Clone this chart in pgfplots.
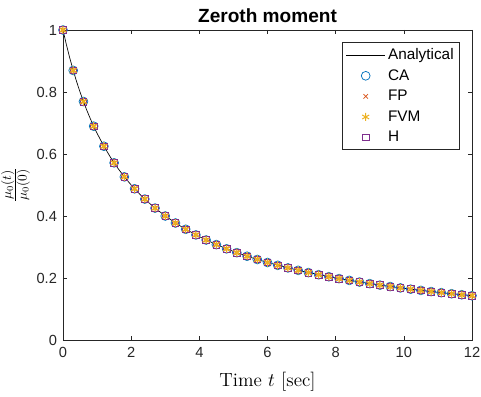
\documentclass[border=0pt]{standalone}
\usepackage{pgfplots}
\usepackage{pgfplotstable}
\pgfplotsset{compat=1.18}
\usepackage{fontspec}
\newfontfamily\helv{Liberation Sans}
\definecolor{cA}{rgb}{0,0.447,0.741}
\definecolor{cB}{rgb}{0.85,0.325,0.098}
\definecolor{cC}{rgb}{0.929,0.694,0.125}
\definecolor{cD}{rgb}{0.494,0.184,0.556}
\definecolor{axc}{rgb}{0.15,0.15,0.15}
\pgfplotstableread{
t v
0 1
0.3 0.869565
0.6 0.769231
0.9 0.689655
1.2 0.625
1.5 0.571429
1.8 0.526316
2.1 0.487805
2.4 0.454545
2.7 0.425532
3.0 0.4
3.3 0.377358
3.6 0.357143
3.9 0.338983
4.2 0.322581
4.5 0.307692
4.8 0.294118
5.1 0.281690
5.4 0.270270
5.7 0.259740
6.0 0.25
6.3 0.240964
6.6 0.232558
6.9 0.224719
7.2 0.217391
7.5 0.210526
7.8 0.204082
8.1 0.198020
8.4 0.192308
8.7 0.186916
9.0 0.181818
9.3 0.176991
9.6 0.172414
9.9 0.168067
10.2 0.163934
10.5 0.16
10.8 0.15625
11.1 0.152672
11.4 0.149254
11.7 0.145985
12.0 0.142857
}\data
\pgfplotstableread{
t v
0 1
0.1 0.952381
0.2 0.909091
0.3 0.869565
0.4 0.833333
0.5 0.8
0.6 0.769231
0.7 0.740741
0.8 0.714286
0.9 0.689655
1.0 0.666667
1.2 0.625
1.4 0.588235
1.6 0.555556
1.8 0.526316
2.0 0.5
2.3 0.465116
2.6 0.434783
3.0 0.4
3.5 0.363636
4.0 0.333333
4.5 0.307692
5.0 0.285714
5.5 0.266667
6.0 0.25
7.0 0.222222
8.0 0.2
9.0 0.181818
10.0 0.166667
11.0 0.153846
12.0 0.142857
}\exact
\begin{document}
\begin{tikzpicture}
\begin{axis}[
  scale only axis,
  width=306.75pt, height=232.5pt,
  xmin=0, xmax=12, ymin=0, ymax=1,
  xtick={0,2,...,12}, ytick={0,0.2,...,1},
  xtick pos=both, ytick pos=both,
  yticklabel style={/pgf/number format/fixed, xshift=-1pt},
  xticklabel style={yshift=-2pt},
  /pgf/number format/assume math mode=true,
  ticklabel style={font=\helv\fontsize{11}{13}\selectfont, text=axc},
  tick align=inside,
  major tick length=3pt,
  tick style={axc, line width=0.5pt},
  axis line style={axc, line width=0.5pt},
  title={\helv\bfseries\fontsize{14.3}{16}\selectfont Zeroth moment},
  title style={yshift=-4pt},
  xlabel={\fontsize{14.3}{16}\selectfont Time $t$ [sec]},
  ylabel={\fontsize{14.3}{16}\selectfont $\frac{\mu_0(t)}{\mu_0(0)}$},
  ylabel style={yshift=-2pt},
  xlabel style={yshift=-4pt},
  legend style={at={(rel axis cs:1,1)}, anchor=north east, xshift=-9pt, yshift=-9pt,
    font=\helv\fontsize{11.5}{13}\selectfont, draw=axc, line width=0.5pt,
    row sep=2pt, inner sep=2.5pt},
  legend cell align=left,
  legend image code/.code={\draw[mark repeat=2,mark phase=2,#1] plot coordinates {(0pt,0pt) (14.5pt,0pt) (29pt,0pt)};},
]
\addplot[black, line width=0.5pt, mark=none] table[x=t,y=v]{\exact};
\addlegendentry{Analytical}
\addplot[only marks, mark=o, mark size=3.3pt, mark options={draw=cA, line width=0.55pt}] table[x=t,y=v]{\data};
\addlegendentry{CA}
\addplot[only marks, mark=x, mark size=2.4pt, mark options={draw=cB, line width=0.55pt}] table[x=t,y=v]{\data};
\addlegendentry{FP}
\addplot[only marks, mark=asterisk, mark size=3pt, mark options={draw=cC, line width=0.75pt}] table[x=t,y=v]{\data};
\addlegendentry{FVM}
\addplot[only marks, mark=square, mark size=2.5pt, mark options={draw=cD, line width=0.55pt}] table[x=t,y=v]{\data};
\addlegendentry{H}
\addplot[only marks, mark=asterisk, mark size=3pt, mark options={draw=cC, line width=0.75pt}, forget plot] table[x=t,y=v]{\data};
\coordinate (sw) at (rel axis cs:0,0);
\coordinate (ne) at (rel axis cs:1,1);
\end{axis}
\pgfresetboundingbox
\path ([shift={(-47.25pt,-42pt)}]sw) rectangle ([shift={(6.75pt,22.5pt)}]ne);
\end{tikzpicture}
\end{document}
